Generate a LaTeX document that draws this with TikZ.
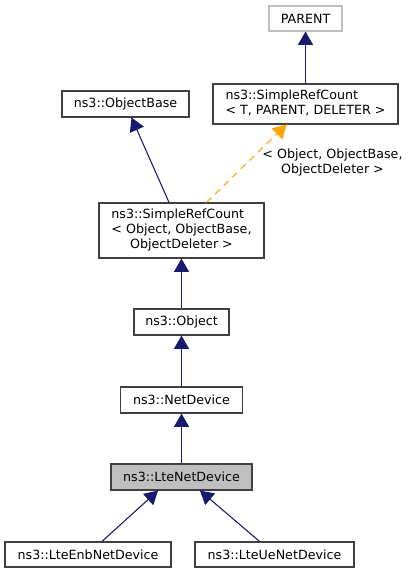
\documentclass[tikz,border=0pt]{standalone}
\usepackage{fontspec}
\setmainfont{DejaVu Sans}
\usepackage{tikz}
\usetikzlibrary{arrows}
\usetikzlibrary{decorations.markings}
\usetikzlibrary{calc}
\definecolor{mblue}{HTML}{191970}
\definecolor{morange}{HTML}{FFA500}
\definecolor{mgrey}{HTML}{404040}
\definecolor{mlight}{HTML}{BFBFBF}
\tikzset{isa/.style = {draw=mblue, line width=0.8pt,
                       decoration={markings,
                                   mark=at position 1 with {\arrow[scale=1.5, draw=mblue, fill=mblue]{triangle 60}}},
                       postaction={decorate}}}
\tikzset{tmpl/.style = {draw=morange, line width=0.8pt, dash pattern=on 5pt off 4pt,
                        decoration={markings,
                                    mark=at position 1 with {\arrow[scale=1.5, draw=morange, fill=morange, solid]{triangle 60}}},
                        postaction={decorate}}}
\tikzset{cls/.style = {draw=mgrey, line width=0.9pt, inner sep=0pt, fill=white,
                       font=\fontsize{9.5}{11.25}\selectfont}}

\begin{document}
\begin{tikzpicture}[x=0.75pt, y=-0.75pt]
    \useasboundingbox (0, 0) rectangle (411, 573);

    \node [cls, draw=mlight, minimum width=73*0.75pt, minimum height=25*0.75pt] (parent) at (305.5, 18.5) {PARENT};
    \node [cls, minimum width=185*0.75pt, minimum height=40*0.75pt] (tref) at (305.5, 104)
      {\begin{tabular}{@{}l@{}}ns3::SimpleRefCount\\< T, PARENT, DELETER >\end{tabular}};
    \node [cls, minimum width=127*0.75pt, minimum height=26*0.75pt] (base) at (125.5, 104) {ns3::ObjectBase};
    \node [cls, minimum width=165*0.75pt, minimum height=55*0.75pt] (oref) at (181.5, 230.5)
      {\begin{tabular}{@{}l@{}}ns3::SimpleRefCount\\< Object, ObjectBase,\\\multicolumn{1}{@{}c@{}}{ObjectDeleter >}\end{tabular}};
    \node [cls, minimum width=95*0.75pt, minimum height=26*0.75pt] (object) at (181.5, 322) {ns3::Object};
    \node [cls, minimum width=122*0.75pt, minimum height=26*0.75pt] (netdev) at (181.5, 400) {ns3::NetDevice};
    \node [cls, fill=mlight, minimum width=141*0.75pt, minimum height=26*0.75pt] (lte) at (181.5, 477) {ns3::LteNetDevice};
    \node [cls, minimum width=166*0.75pt, minimum height=25*0.75pt] (enb) at (88, 554.5) {ns3::LteEnbNetDevice};
    \node [cls, minimum width=159*0.75pt, minimum height=25*0.75pt] (ue) at (274.5, 554.5) {ns3::LteUeNetDevice};
    \node [align=center, font=\fontsize{9.5}{11.25}\selectfont] (targs) at (332.5, 163)
      {< Object, ObjectBase,\\ObjectDeleter >};

    \draw [isa] (tref) -- (parent);
    \draw [isa] ($(oref.north)+(-12.5, 0)$) -- ($(base.south)+(6, 0)$);
    \draw [tmpl] ($(oref.north)+(25, 0)$) -- ($(tref.south)+(-19, 0)$);
    \draw [isa] (object) -- (oref);
    \draw [isa] (netdev) -- (object);
    \draw [isa] (lte) -- (netdev);
    \draw [isa] ($(enb.north)+(14, 0)$) -- ($(lte.south)+(-23.5, 0)$);
    \draw [isa] ($(ue.north)+(-15, 0)$) -- ($(lte.south)+(18.5, 0)$);
  \end{tikzpicture}
\end{document}
